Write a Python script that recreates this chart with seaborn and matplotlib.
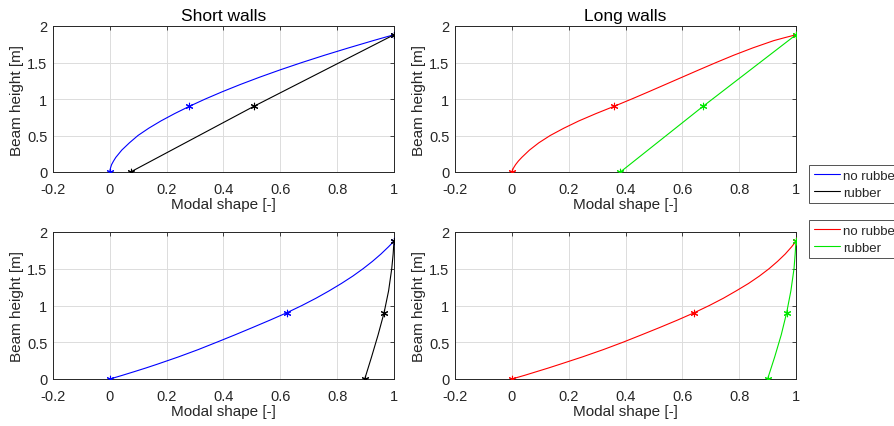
import matplotlib
matplotlib.use("Agg")
import matplotlib.pyplot as plt
import seaborn as sns
import pandas as pd
from matplotlib.lines import Line2D
from matplotlib.ticker import FuncFormatter, FixedLocator

# ---------------- data ----------------
heights = [0, 0.02, 0.05, 0.1, 0.15, 0.2, 0.3, 0.4, 0.5, 0.6, 0.7, 0.8, 0.9,
           1.0, 1.1, 1.2, 1.3, 1.4, 1.5, 1.6, 1.7, 1.8, 1.84, 1.88]
marker_heights = [0, 0.9, 1.88]

# Short walls, mode 1
short1_norubber = [0, 0.0004, 0.002, 0.006, 0.013, 0.021, 0.042, 0.069, 0.099,
                   0.137, 0.18, 0.228, 0.28, 0.336, 0.396, 0.46, 0.528, 0.6,
                   0.676, 0.756, 0.84, 0.927, 0.963, 1.0]
short1_rubber_h = [0, 0.9, 1.88]
short1_rubber = [0.073, 0.507, 1.0]
short1_norubber_mk = [0, 0.28, 1.0]

# Long walls, mode 1
long1_norubber = [0, 0.002, 0.005, 0.013, 0.023, 0.035, 0.062, 0.095, 0.135,
                  0.183, 0.236, 0.296, 0.36, 0.422, 0.482, 0.541, 0.6, 0.659,
                  0.719, 0.781, 0.848, 0.922, 0.96, 1.0]
long1_rubber_h = [0, 0.9, 1.88]
long1_rubber = [0.382, 0.673, 1.0]
long1_norubber_mk = [0, 0.36, 1.0]

# Short walls, mode 2
short2_norubber = [0, 0.018, 0.044, 0.086, 0.127, 0.166, 0.241, 0.311, 0.376,
                   0.44, 0.502, 0.563, 0.622, 0.676, 0.726, 0.772, 0.815, 0.855,
                   0.891, 0.924, 0.954, 0.981, 0.991, 1.0]
short2_rubber_h = [0, 0.3, 0.6, 0.9, 1.2, 1.5, 1.7, 1.88]
short2_rubber = [0.897, 0.921, 0.944, 0.965, 0.981, 0.992, 0.997, 1.0]
short2_norubber_mk = [0, 0.622, 1.0]
short2_rubber_mk = [0.897, 0.965, 1.0]

# Long walls, mode 2
long2_norubber = [0, 0.018, 0.045, 0.087, 0.129, 0.169, 0.248, 0.322, 0.391,
                  0.456, 0.52, 0.582, 0.641, 0.695, 0.745, 0.79, 0.833, 0.871,
                  0.905, 0.935, 0.962, 0.985, 0.993, 1.0]
long2_rubber_h = [0, 0.3, 0.6, 0.9, 1.2, 1.5, 1.7, 1.88]
long2_rubber = [0.9, 0.925, 0.948, 0.967, 0.982, 0.993, 0.997, 1.0]
long2_norubber_mk = [0, 0.641, 1.0]
long2_rubber_mk = [0.9, 0.967, 1.0]

titles = ["Short walls", "Long walls"]
legend_labels = ["no rubber", "rubber"]
x_ticks = [-0.2, 0, 0.2, 0.4, 0.6, 0.8, 1.0]
y_ticks = [0, 0.5, 1.0, 1.5, 2.0]

# ---------------- style ----------------
sns.set_theme(style="white")
plt.rcParams['font.family'] = ['Liberation Sans', 'DejaVu Sans']
plt.rcParams['axes.unicode_minus'] = False

W, H = 895, 427
fig = plt.figure(figsize=(W / 100, H / 100), dpi=100)

def frac_axes(x0, y0, x1, y1):
    return fig.add_axes([x0 / W, 1 - y1 / H, (x1 - x0) / W, (y1 - y0) / H])

ax_tl = frac_axes(53, 27, 394, 173)
ax_tr = frac_axes(455, 27, 796, 173)
ax_bl = frac_axes(53, 233, 394, 380)
ax_br = frac_axes(455, 233, 796, 380)

BLUE, BLACK, RED, GREEN = "#0000ff", "#000000", "#ff0000", "#00e600"
ASTER = (6, 2, 0)
LW = 0.8

def draw(ax, xs, hs, color, mk_x, mk_h):
    df = pd.DataFrame({"x": xs, "h": hs})
    sns.lineplot(data=df, x="x", y="h", sort=False, estimator=None,
                 color=color, linewidth=LW, ax=ax)
    dm = pd.DataFrame({"x": mk_x, "h": mk_h})
    sns.scatterplot(data=dm, x="x", y="h", marker=ASTER, s=22, color=color,
                    edgecolor=color, linewidth=0.8, ax=ax, zorder=3)

draw(ax_tl, short1_norubber, heights, BLUE, short1_norubber_mk, marker_heights)
draw(ax_tl, short1_rubber, short1_rubber_h, BLACK, short1_rubber, short1_rubber_h)
draw(ax_tr, long1_norubber, heights, RED, long1_norubber_mk, marker_heights)
draw(ax_tr, long1_rubber, long1_rubber_h, GREEN, long1_rubber, long1_rubber_h)
draw(ax_bl, short2_norubber, heights, BLUE, short2_norubber_mk, marker_heights)
draw(ax_bl, short2_rubber, short2_rubber_h, BLACK, short2_rubber_mk, marker_heights)
draw(ax_br, long2_norubber, heights, RED, long2_norubber_mk, marker_heights)
draw(ax_br, long2_rubber, long2_rubber_h, GREEN, long2_rubber_mk, marker_heights)

fmt = FuncFormatter(lambda v, p: f"{v:g}")
for ax in [ax_tl, ax_tr, ax_bl, ax_br]:
    ax.set_xlim(-0.2, 1.0)
    ax.set_ylim(0, 2)
    ax.xaxis.set_major_locator(FixedLocator(x_ticks))
    ax.yaxis.set_major_locator(FixedLocator(y_ticks))
    ax.xaxis.set_major_formatter(fmt)
    ax.yaxis.set_major_formatter(fmt)
    ax.grid(True, color="#dcdcdc", linewidth=0.7)
    ax.set_axisbelow(True)
    for s in ax.spines.values():
        s.set_color("#262626")
        s.set_linewidth(0.7)
    ax.tick_params(direction="in", top=True, right=True, length=3, width=0.6,
                   color="#262626", labelsize=10.5, labelcolor="#262626")
    ax.tick_params(axis="x", pad=7)
    ax.tick_params(axis="y", pad=4)
    ax.set_xlabel("Modal shape [-]", fontsize=11, color="#262626", labelpad=1)
    ax.set_ylabel("Beam height [m]", fontsize=11, color="#262626", labelpad=2)
    ax.set_facecolor("white")

ax_tl.set_title(titles[0], fontsize=12.5, color="#000000", pad=4)
ax_tr.set_title(titles[1], fontsize=12.5, color="#000000", pad=4)

leg_kw = dict(loc="upper left", frameon=True, fontsize=9.5, handlelength=2.0,
              handletextpad=0.25, borderpad=0.35, labelspacing=0.35,
              fancybox=False, borderaxespad=0)
h1 = [Line2D([], [], color=BLUE, lw=LW), Line2D([], [], color=BLACK, lw=LW)]
h2 = [Line2D([], [], color=RED, lw=LW), Line2D([], [], color=GREEN, lw=LW)]
l1 = fig.legend(h1, legend_labels, bbox_to_anchor=(809 / W, 1 - 166 / H), **leg_kw)
l2 = fig.legend(h2, legend_labels, bbox_to_anchor=(809 / W, 1 - 221 / H), **leg_kw)
for lg in (l1, l2):
    lg.get_frame().set_edgecolor("#262626")
    lg.get_frame().set_linewidth(0.7)

fig.savefig("out.png", dpi=100)
